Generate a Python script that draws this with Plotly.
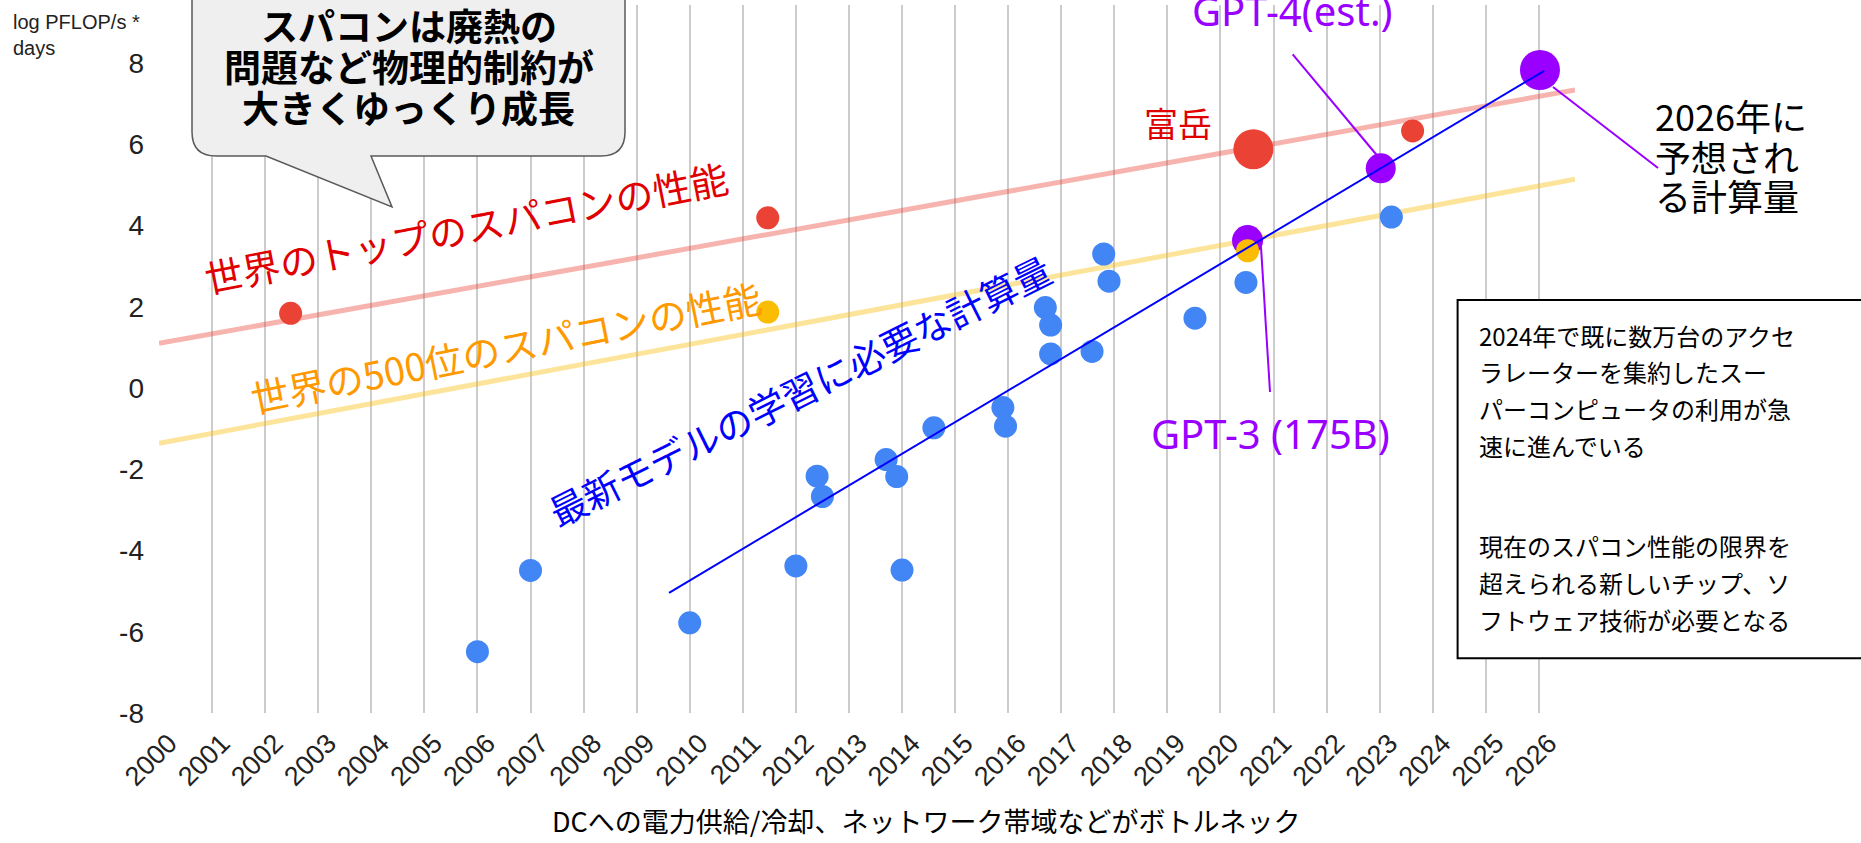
import plotly.graph_objects as go

# ---------------- data ----------------
years = list(range(2000, 2027))
year_labels = [str(y) for y in years]
y_ticks = [-8, -6, -4, -2, 0, 2, 4, 6, 8]
y_tick_labels = ["-8", "-6", "-4", "-2", "0", "2", "4", "6", "8"]

# compute needed for training state-of-the-art models (blue)
model_x = [2006.0, 2007.0, 2010.0, 2012.0, 2012.4, 2012.5, 2013.7, 2013.9, 2014.0,
           2014.6, 2015.9, 2015.95, 2016.7, 2016.8, 2016.8, 2017.58, 2017.8, 2017.9,
           2019.52, 2020.48, 2023.22]
model_y = [-6.49, -4.49, -5.78, -4.38, -2.17, -2.67, -1.76, -2.18, -4.48,
           -0.98, -0.48, -0.94, 1.98, 1.55, 0.84, 0.90, 3.30, 2.63,
           1.72, 2.60, 4.21]

# top supercomputer (red)
top_x = [2002.48, 2011.47, 2023.62]
top_y = [1.84, 4.19, 6.33]
fugaku_x = [2020.62]
fugaku_y = [5.88]

# 500th supercomputer (yellow)
rank500_x = [2011.47, 2020.51]
rank500_y = [1.87, 3.38]

# GPT-3, GPT-4(est.), 2026 projection (purple)
gpt_x = [2020.51, 2023.02, 2026.02]
gpt_y = [3.63, 5.41, 7.83]

# trend lines
top_trend_x = [2000, 2026.68]
top_trend_y = [1.10, 7.34]
rank500_trend_x = [2000, 2026.68]
rank500_trend_y = [-1.36, 5.14]
model_trend_x = [2009.61, 2026.1]
model_trend_y = [-5.04, 7.81]

# ---------------- layout helpers ----------------
W, H = 1861, 843
PL, PR, PT, PB = 159, 1575, 5, 713  # plot area in pixels
CJK = "Noto Sans CJK JP"
SANS = "Liberation Sans, Arial"
LATIN = "Noto Sans, Noto Sans CJK JP"


def px(x):
    return (x - PL) / (PR - PL)


def py(y):
    return (PB - y) / (PB - PT)


fig = go.Figure()

fig.add_trace(go.Scatter(x=top_trend_x, y=top_trend_y, mode="lines",
                         line=dict(color="rgba(234,67,53,0.4)", width=5), hoverinfo="skip"))
fig.add_trace(go.Scatter(x=rank500_trend_x, y=rank500_trend_y, mode="lines",
                         line=dict(color="rgba(251,188,4,0.4)", width=5), hoverinfo="skip"))
fig.add_trace(go.Scatter(x=model_x, y=model_y, mode="markers",
                         marker=dict(color="#4285F4", size=23, opacity=1, line=dict(width=0))))
fig.add_trace(go.Scatter(x=top_x, y=top_y, mode="markers",
                         marker=dict(color="#EA4335", size=23, opacity=1, line=dict(width=0))))
fig.add_trace(go.Scatter(x=fugaku_x, y=fugaku_y, mode="markers",
                         marker=dict(color="#EA4335", size=40, opacity=1, line=dict(width=0))))
fig.add_trace(go.Scatter(x=gpt_x, y=gpt_y, mode="markers",
                         marker=dict(color="#9900FF", size=[31, 30, 40], opacity=1, line=dict(width=0))))
fig.add_trace(go.Scatter(x=rank500_x, y=rank500_y, mode="markers",
                         marker=dict(color="#FBBC04", size=23, opacity=1, line=dict(width=0))))
fig.add_trace(go.Scatter(x=model_trend_x, y=model_trend_y, mode="lines",
                         line=dict(color="#0000FF", width=2), hoverinfo="skip"))

# ---------------- decorations ----------------
shapes = []

# speech-bubble callout
cl, cr, ctop, cbot, rad = 192, 625, -30, 156, 24
pts = [("M", cl, ctop), ("L", cl, cbot - rad), ("Q", cl, cbot, cl + rad, cbot),
       ("L", 266, cbot), ("L", 392, 207), ("L", 371, cbot), ("L", cr - rad, cbot),
       ("Q", cr, cbot, cr, cbot - rad), ("L", cr, ctop)]
path = ""
for p in pts:
    cmd = p[0]
    coords = p[1:]
    seg = []
    for i in range(0, len(coords), 2):
        seg.append(f"{px(coords[i]):.5f},{py(coords[i + 1]):.5f}")
    path += cmd + " " + " ".join(seg) + " "
path += "Z"
shapes.append(dict(type="path", path=path, xref="paper", yref="paper",
                   fillcolor="#EFEFEF", line=dict(color="#595959", width=1.5), layer="above"))

# right text box
shapes.append(dict(type="rect", xref="paper", yref="paper",
                   x0=px(1457.6), x1=px(1880), y0=py(658.3), y1=py(300),
                   fillcolor="white", line=dict(color="black", width=2), layer="above"))

# leader lines
for (x0, y0, x1, y1) in [(1292.7, 54.3, 1376.7, 155), (1261, 247, 1270, 392), (1553, 87, 1658, 168)]:
    shapes.append(dict(type="line", xref="paper", yref="paper",
                       x0=px(x0), y0=py(y0), x1=px(x1), y1=py(y1),
                       line=dict(color="#9900FF", width=2), layer="above"))

annotations = []


def add_text(text, x, y, size, color, xanchor="center", angle=0, family=CJK, yanchor="middle"):
    annotations.append(dict(x=px(x), y=py(y), xref="paper", yref="paper", text=text,
                            showarrow=False, xanchor=xanchor, yanchor=yanchor, textangle=angle,
                            font=dict(size=size, color=color, family=family), align="left"))


add_text("log PFLOP/s *<br>days", 11, 9, 20, "#222222", xanchor="left", family=SANS, yanchor="top")

for t, yy in [("スパコンは廃熱の", 25), ("問題など物理的制約が", 66), ("大きくゆっくり成長", 107)]:
    add_text("<b>" + t + "</b>", 408.5, yy, 37, "black")

add_text("世界のトップのスパコンの性能", 466, 226.5, 38, "#E00000", angle=-11)
add_text("世界の500位のスパコンの性能", 505, 346.5, 38, "#FF9900", angle=-11.3)
add_text("最新モデルの学習に必要な計算量", 799, 390, 37, "#0000FF", angle=-26.5)

add_text("富岳", 1178, 123, 34, "#E00000")
add_text("GPT-4(est.)", 1292, 10, 40, "#9900FF", family=LATIN)
add_text("GPT-3 (175B)", 1270, 433, 40, "#9900FF", family=LATIN)

for t, yy in [("2026年に", 114.5), ("予想され", 156), ("る計算量", 195)]:
    add_text(t, 1653, yy, 36, "black", xanchor="left")

box_lines = [("2024年で既に数万台のアクセ", 335), ("ラレーターを集約したスー", 371.7),
             ("パーコンピュータの利用が急", 408), ("速に進んでいる", 445),
             ("現在のスパコン性能の限界を", 545), ("超えられる新しいチップ、ソ", 582.7),
             ("フトウェア技術が必要となる", 619.3)]
for t, yy in box_lines:
    add_text(t, 1477, yy, 24, "black", xanchor="left")

add_text("DCへの電力供給/冷却、ネットワーク帯域などがボトルネック", 926, 820, 27, "black")

fig.update_layout(
    width=W, height=H,
    margin=dict(l=PL, r=W - PR, t=PT, b=H - PB, pad=0),
    plot_bgcolor="white", paper_bgcolor="white",
    showlegend=False,
    shapes=shapes, annotations=annotations,
    xaxis=dict(range=[2000, 2026.68], tickmode="array", tickvals=years, ticktext=year_labels,
               tickangle=-45, showgrid=True, gridcolor="#CCCCCC", gridwidth=2,
               zeroline=False, showline=False, ticks="", automargin=False,
               ticklabelstandoff=8, ticklabelshift=10,
               tickfont=dict(size=27, color="#222222", family=SANS)),
    yaxis=dict(range=[-8, 9.43], tickmode="array", tickvals=y_ticks, ticktext=y_tick_labels,
               showgrid=False, zeroline=False, showline=False, ticks="", automargin=False,
               ticklabelstandoff=14,
               tickfont=dict(size=28, color="#222222", family=SANS)),
)

fig.write_html("out.html", config={"displayModeBar": False},
               post_script="document.body.style.margin='0px';")
